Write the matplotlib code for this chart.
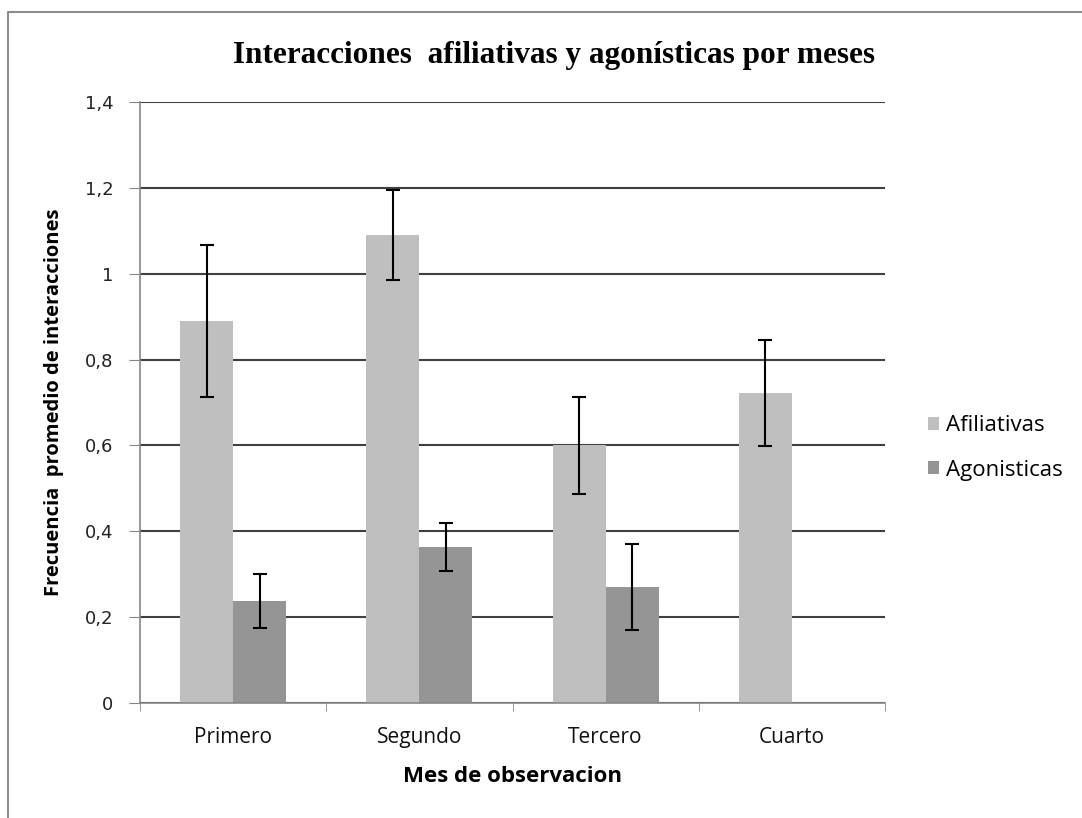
import matplotlib
matplotlib.use("Agg")
import matplotlib.pyplot as plt
import numpy as np
from matplotlib.lines import Line2D

categories = ["Primero", "Segundo", "Tercero", "Cuarto"]
afiliativas = [0.89, 1.09, 0.60, 0.722]
afiliativas_err = [0.177, 0.104, 0.112, 0.123]
agonisticas = [0.237, 0.363, 0.270, 0.0]
agonisticas_err = [0.063, 0.056, 0.100, 0.0]
yticks = [0, 0.2, 0.4, 0.6, 0.8, 1.0, 1.2, 1.4]
ytick_labels = ["0", "0,2", "0,4", "0,6", "0,8", "1", "1,2", "1,4"]

fig = plt.figure(figsize=(10.82, 8.18), dpi=100)
ax = fig.add_axes([140/1082, 1-703/818, (885-140)/1082, (703-102)/818])

x = np.arange(len(categories))
w = 0.285
ax.set_axisbelow(True)
ax.yaxis.grid(True, color="#404040", linewidth=1.5)
ek = dict(ecolor="black", elinewidth=1.5, capsize=4.7, capthick=1.5)
ax.bar(x - w/2, afiliativas, w, color="#BFBFBF", label="Afiliativas",
       yerr=afiliativas_err, error_kw=ek)
agon_err = [e if e > 0 else np.nan for e in agonisticas_err]
ax.bar(x + w/2, agonisticas, w, color="#959595", label="Agonisticas",
       yerr=agon_err, error_kw=ek)

ax.set_xlim(-0.5, 3.5)
ax.set_ylim(0, 1.4)
ax.set_yticks(yticks)
ax.set_yticklabels(ytick_labels, fontsize=13, family="DejaVu Sans", color="#222222")
ax.set_xticks(x)
ax.set_xticklabels(categories, fontsize=15, family="Open Sans", color="#111111")
ax.set_xticks(np.arange(-0.5, 4.0, 1.0), minor=True)
ax.tick_params(axis="x", which="major", length=0, pad=17)
ax.tick_params(axis="x", which="minor", length=6, color="#868686", direction="out")
ax.tick_params(axis="y", length=8, color="#868686", direction="out", pad=11)
for s in ["top", "right"]:
    ax.spines[s].set_visible(False)
for s in ["left", "bottom"]:
    ax.spines[s].set_color("#868686")
    ax.spines[s].set_linewidth(1.2)

ax.set_xlabel("Mes de observacion", fontsize=16, family="Open Sans", fontweight="bold", labelpad=13)
ax.set_ylabel("Frecuencia  promedio de interacciones", fontsize=14.5, family="Open Sans",
              fontweight="bold")
ax.yaxis.set_label_coords(-76/745, 0.5)

fig.text(554/1082, 1-55/818, "Interacciones  afiliativas y agonísticas por meses",
         ha="center", va="center", fontsize=22.5, family="Liberation Serif",
         fontweight="bold")

leg = fig.legend(loc="center left", bbox_to_anchor=(908/1082, 1-448/818), frameon=False,
                 prop={"family": "Open Sans", "size": 16},
                 handlelength=0.5, handleheight=0.5, handletextpad=0.3, labelspacing=1.05)

fig.add_artist(Line2D([8/1082, 8/1082, 1.0], [0.0, 1-12/818, 1-12/818],
                      transform=fig.transFigure, color="#8c8c8c", linewidth=1.5))

fig.savefig("out.png", dpi=100)
